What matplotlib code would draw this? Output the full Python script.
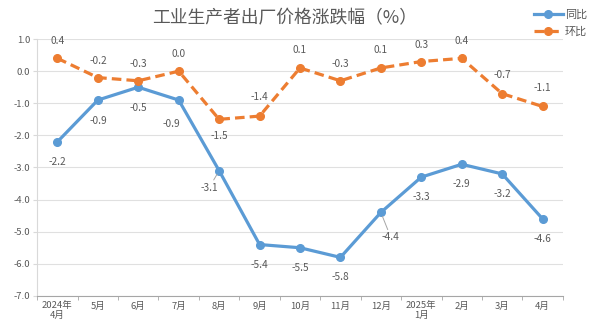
import matplotlib.pyplot as plt

plt.rcParams['font.family'] = ['Noto Sans CJK SC', 'DejaVu Sans']

# 数据
meses = ['2024年\n4月', '5月', '6月', '7月', '8月', '9月', '10月', '11月', '12月',
         '2025年\n1月', '2月', '3月', '4月']
tongbi = [-2.2, -0.9, -0.5, -0.9, -3.1, -5.4, -5.5, -5.8, -4.4, -3.3, -2.9, -3.2, -4.6]
huanbi = [0.4, -0.2, -0.3, 0.0, -1.5, -1.4, 0.1, -0.3, 0.1, 0.3, 0.4, -0.7, -1.1]

azul = '#5B9BD5'
naranja = '#ED7D31'
gris = '#595959'

fig = plt.figure(figsize=(6, 3.31), dpi=100)
ax = fig.add_axes([0.062, 0.106, 0.876, 0.776])

x = list(range(len(meses)))
ax.plot(x, tongbi, color=azul, lw=2.3, marker='o', ms=5.5, label='同比', zorder=3)
ax.plot(x, huanbi, color=naranja, lw=2.3, ls=(0, (3, 1.6)), marker='o', ms=5.5,
        label='环比', zorder=3)

# etiquetas del 同比 (offset en px)
off_tb = [(0, -20), (0, -21), (0, -21), (-7, -24), (-10, -17), (0, -20), (0, -20),
          (0, -20), (10, -25), (0, -20), (0, -20), (0, -20), (0, -20)]
for i, v in enumerate(tongbi):
    dx, dy = off_tb[i]
    arrow = None
    if i in (4, 8):
        arrow = dict(arrowstyle='-', color='#A6A6A6', lw=0.7, shrinkA=0, shrinkB=3)
    ax.annotate(f'{v:.1f}', (i, v), xytext=(dx * 0.72, dy * 0.72), textcoords='offset points',
                ha='center', va='center', fontsize=7.3, color=gris, arrowprops=arrow)

# etiquetas del 环比
off_hb = [17, 17, 17, 17, -17, 19, 18, 17, 18, 17, 17, 19, 18]
for i, v in enumerate(huanbi):
    ax.annotate(f'{v:.1f}', (i, v), xytext=(0, off_hb[i] * 0.72), textcoords='offset points',
                ha='center', va='center', fontsize=7.3, color=gris)

ax.set_xlim(-0.5, len(meses) - 0.5)
ax.set_ylim(-7.0, 1.0)
ax.set_yticks([1.0, 0.0, -1.0, -2.0, -3.0, -4.0, -5.0, -6.0, -7.0])
ax.set_yticklabels([f'{t:.1f}' for t in ax.get_yticks()], fontsize=6.8, color=gris)
ax.set_xticks(x)
ax.set_xticklabels(meses, fontsize=6.8, color=gris, linespacing=1.1)
ax.set_xticks([i + 0.5 for i in range(-1, len(meses))], minor=True)
ax.tick_params(axis='x', which='major', length=0, pad=4)
ax.tick_params(axis='x', which='minor', length=3, color='#A6A6A6')
ax.tick_params(axis='y', length=3, color='#D9D9D9', pad=2)

ax.grid(axis='y', color='#E0E0E0', lw=0.8)
ax.set_axisbelow(True)
for s in ['top', 'right']:
    ax.spines[s].set_visible(False)
ax.spines['left'].set_color('#D9D9D9')
ax.spines['bottom'].set_color('#A6A6A6')

fig.text(0.475, 0.945, '工业生产者出厂价格涨跌幅（%）', ha='center', va='center',
         fontsize=12.8, color=gris)
fig.legend(loc='upper right', bbox_to_anchor=(0.995, 1.0), frameon=False, fontsize=8,
           labelcolor=gris, handlelength=2.6, handletextpad=0.2, labelspacing=0.6)

plt.savefig('out.png', dpi=100)
